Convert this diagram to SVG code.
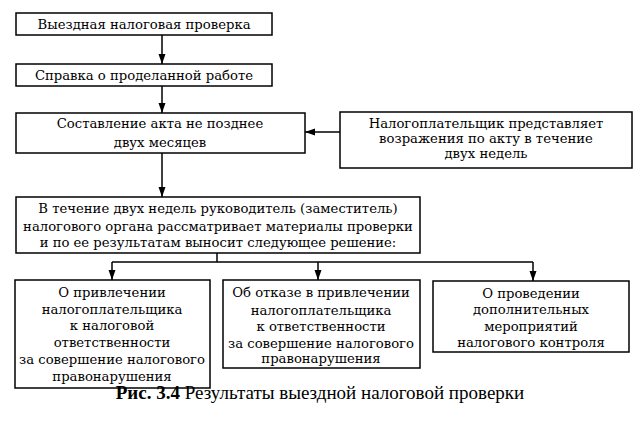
<svg xmlns="http://www.w3.org/2000/svg" width="639" height="439" viewBox="0 0 639 439">
<defs>
<style>
.box{fill:#fff;stroke:#000;stroke-width:1.5}
.t{font-family:"DejaVu Serif","Liberation Serif",serif;font-size:13.2px;fill:#000;text-anchor:middle}
.cap{font-family:"Liberation Serif","Times New Roman",serif;font-size:19px;fill:#000;text-anchor:middle}
.c{stroke:#000;stroke-width:1.5;fill:none}
</style>
<marker id="ah" viewBox="0 0 10 10" refX="10" refY="5" markerWidth="10" markerHeight="10" markerUnits="userSpaceOnUse" orient="auto">
<path d="M0,1.5 L10,5 L0,8.5 z" fill="#000"/>
</marker>
</defs>
<rect width="639" height="439" fill="#fff"/>
<g id="connectors">
<line class="c" x1="162" y1="35" x2="162" y2="64" marker-end="url(#ah)"/>
<line class="c" x1="162" y1="86" x2="162" y2="113" marker-end="url(#ah)"/>
<line class="c" x1="162" y1="153" x2="162" y2="197" marker-end="url(#ah)"/>
<line class="c" x1="340" y1="132" x2="305" y2="132" marker-end="url(#ah)"/>
<polyline class="c" points="217,253 217,262"/>
<line class="c" x1="112" y1="262" x2="533" y2="262"/>
<line class="c" x1="112" y1="262" x2="112" y2="280" marker-end="url(#ah)"/>
<line class="c" x1="318" y1="262" x2="318" y2="280" marker-end="url(#ah)"/>
<line class="c" x1="533" y1="262" x2="533" y2="281" marker-end="url(#ah)"/>
</g>
<g id="n1">
<rect class="box" x="16" y="13" width="256" height="22"/>
<text class="t" x="144" y="29">Выездная налоговая проверка</text>
</g>
<g id="n2">
<rect class="box" x="16" y="64" width="256" height="22"/>
<text class="t" x="144" y="80">Справка о проделанной работе</text>
</g>
<g id="n3">
<rect class="box" x="16" y="113" width="289" height="40"/>
<text class="t" x="160" y="128">Составление акта не позднее</text>
<text class="t" x="160" y="146.5">двух месяцев</text>
</g>
<g id="n4">
<rect class="box" x="340" y="112" width="292" height="56"/>
<text class="t" x="486" y="128">Налогоплательщик представляет</text>
<text class="t" x="486" y="143">возражения по акту в течение</text>
<text class="t" x="486" y="158">двух недель</text>
</g>
<g id="n5">
<rect class="box" x="16" y="197" width="404" height="56"/>
<text class="t" x="218" y="213">В течение двух недель руководитель (заместитель)</text>
<text class="t" x="218" y="230.5">налогового органа рассматривает материалы проверки</text>
<text class="t" x="218" y="247">и по ее результатам выносит следующее решение:</text>
</g>
<g id="n6">
<rect class="box" x="15" y="280" width="195" height="108"/>
<text class="t" x="112" y="297">О привлечении</text>
<text class="t" x="112" y="314">налогоплательщика</text>
<text class="t" x="112" y="330">к налоговой</text>
<text class="t" x="112" y="347">ответственности</text>
<text class="t" x="112" y="363.5">за совершение налогового</text>
<text class="t" x="112" y="380.5">правонарушения</text>
</g>
<g id="n7">
<rect class="box" x="223" y="280" width="197" height="88"/>
<text class="t" x="321" y="297">Об отказе в привлечении</text>
<text class="t" x="321" y="314.5">налогоплательщика</text>
<text class="t" x="321" y="330.5">к ответственности</text>
<text class="t" x="321" y="347.5">за совершение налогового</text>
<text class="t" x="321" y="363">правонарушения</text>
</g>
<g id="n8">
<rect class="box" x="433" y="281" width="196" height="71"/>
<text class="t" x="531" y="297.5">О проведении</text>
<text class="t" x="531" y="314">дополнительных</text>
<text class="t" x="531" y="330.5">мероприятий</text>
<text class="t" x="531" y="346.5">налогового контроля</text>
</g>
<text class="cap" x="320" y="399"><tspan font-weight="bold">Рис. 3.4</tspan> Результаты выездной налоговой проверки</text>
</svg>
